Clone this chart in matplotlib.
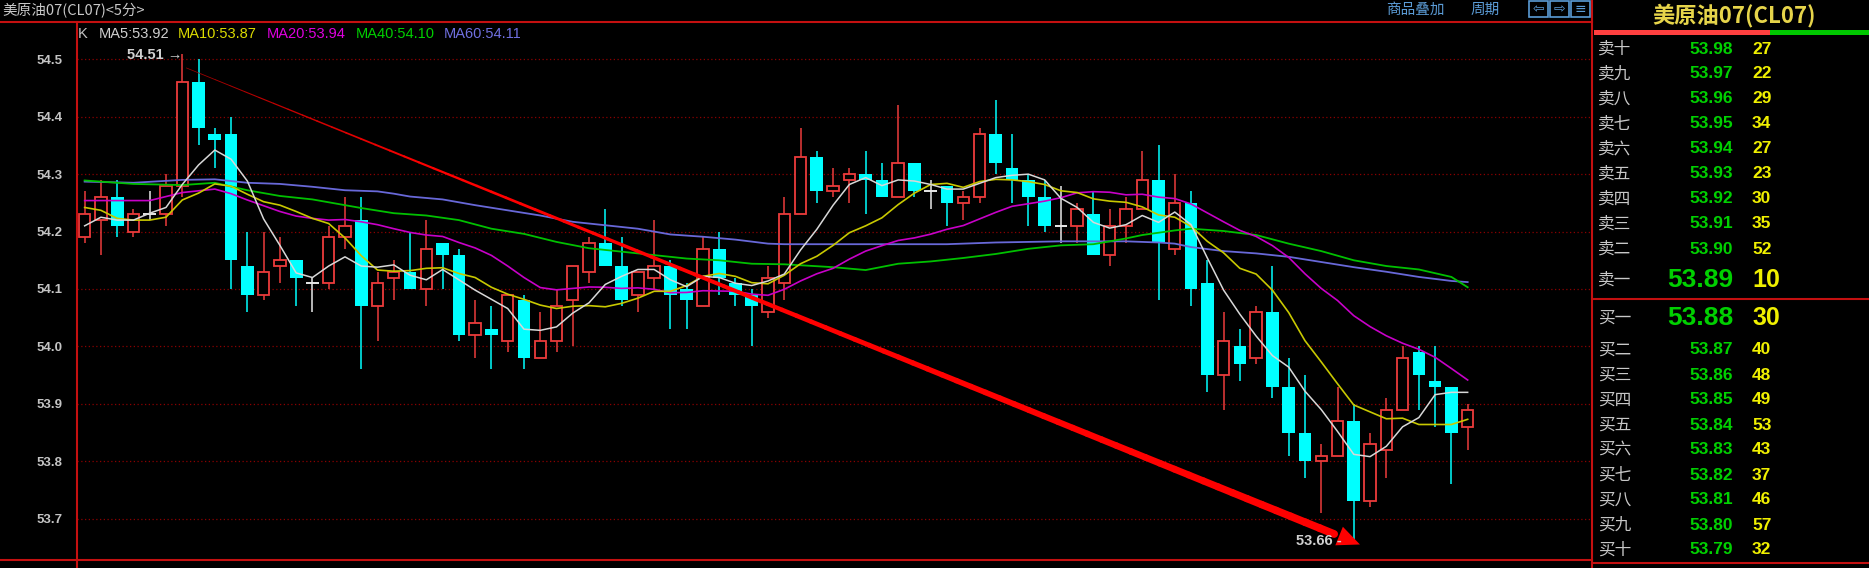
import matplotlib
matplotlib.use("Agg")
import matplotlib.pyplot as plt
import numpy as np
import pandas as pd
from matplotlib.collections import LineCollection
from matplotlib.lines import Line2D
from matplotlib.patches import Rectangle

# ---- data (5-minute candles, CL07) ----
opens = [54.19, 54.22, 54.26, 54.20, 54.23, 54.23, 54.28, 54.46, 54.37, 54.37,
         54.14, 54.09, 54.14, 54.15, 54.11, 54.11, 54.19, 54.22, 54.07, 54.12,
         54.13, 54.10, 54.18, 54.16, 54.02, 54.03, 54.01, 54.08, 53.98, 54.01,
         54.08, 54.13, 54.18, 54.14, 54.09, 54.12, 54.14, 54.10, 54.07, 54.17,
         54.11, 54.09, 54.06, 54.11, 54.23, 54.33, 54.27, 54.29, 54.30, 54.29,
         54.26, 54.32, 54.27, 54.28, 54.25, 54.26, 54.37, 54.31, 54.29, 54.26,
         54.21, 54.21, 54.23, 54.16, 54.21, 54.24, 54.29, 54.17, 54.25, 54.11,
         53.95, 54.00, 53.98, 54.06, 53.93, 53.85, 53.80, 53.81, 53.87, 53.73,
         53.82, 53.89, 53.99, 53.94, 53.93, 53.86]
highs = [54.27, 54.29, 54.29, 54.24, 54.27, 54.30, 54.51, 54.50, 54.38, 54.40,
         54.20, 54.20, 54.19, 54.15, 54.12, 54.21, 54.26, 54.26, 54.13, 54.15,
         54.20, 54.22, 54.18, 54.17, 54.08, 54.07, 54.09, 54.09, 54.06, 54.10,
         54.14, 54.19, 54.24, 54.19, 54.13, 54.22, 54.15, 54.11, 54.19, 54.20,
         54.12, 54.10, 54.14, 54.26, 54.38, 54.34, 54.31, 54.31, 54.34, 54.32,
         54.42, 54.32, 54.29, 54.28, 54.27, 54.38, 54.43, 54.37, 54.30, 54.29,
         54.28, 54.25, 54.27, 54.24, 54.26, 54.34, 54.35, 54.30, 54.27, 54.15,
         54.06, 54.03, 54.07, 54.14, 53.98, 53.95, 53.83, 53.93, 53.90, 53.85,
         53.91, 54.00, 54.00, 54.00, 53.93, 53.90]
lows = [54.18, 54.16, 54.19, 54.19, 54.22, 54.21, 54.26, 54.35, 54.31, 54.10,
        54.06, 54.08, 54.11, 54.07, 54.06, 54.10, 54.17, 53.96, 54.01, 54.08,
        54.10, 54.07, 54.10, 54.01, 53.98, 53.96, 53.99, 53.96, 53.98, 53.99,
        54.00, 54.11, 54.14, 54.07, 54.06, 54.10, 54.03, 54.03, 54.07, 54.09,
        54.07, 54.00, 54.05, 54.08, 54.23, 54.25, 54.26, 54.25, 54.23, 54.26,
        54.26, 54.26, 54.24, 54.21, 54.22, 54.25, 54.30, 54.25, 54.21, 54.20,
        54.18, 54.18, 54.16, 54.14, 54.18, 54.24, 54.08, 54.16, 54.07, 53.92,
        53.89, 53.94, 53.97, 53.91, 53.81, 53.77, 53.71, 53.81, 53.66, 53.72,
        53.77, 53.89, 53.89, 53.86, 53.76, 53.82]
closes = [54.23, 54.26, 54.21, 54.23, 54.23, 54.28, 54.46, 54.38, 54.36, 54.15,
          54.09, 54.13, 54.15, 54.12, 54.11, 54.19, 54.21, 54.07, 54.11, 54.13,
          54.10, 54.17, 54.16, 54.02, 54.04, 54.02, 54.09, 53.98, 54.01, 54.07,
          54.14, 54.18, 54.14, 54.08, 54.13, 54.14, 54.09, 54.08, 54.17, 54.12,
          54.09, 54.07, 54.12, 54.23, 54.33, 54.27, 54.28, 54.30, 54.29, 54.26,
          54.32, 54.27, 54.27, 54.25, 54.26, 54.37, 54.32, 54.29, 54.26, 54.21,
          54.21, 54.24, 54.16, 54.21, 54.24, 54.29, 54.18, 54.25, 54.10, 53.95,
          54.01, 53.97, 54.06, 53.93, 53.85, 53.80, 53.81, 53.87, 53.73, 53.83,
          53.89, 53.98, 53.95, 53.93, 53.85, 53.89]

# moving averages at the left edge depend on bars before the window
ma5_head = [54.21, 54.225, 54.22, 54.22]
ma10_head = [54.242, 54.237, 54.223, 54.22, 54.22, 54.225, 54.255, 54.267, 54.283]
ma20_head = [54.254, 54.254, 54.254, 54.254, 54.254, 54.261, 54.268, 54.271, 54.274,
             54.266, 54.255, 54.245, 54.235, 54.227, 54.223, 54.220, 54.221, 54.217, 54.212]
ma40_idx = [0, 3, 6, 8, 10, 12, 14, 16, 17, 19, 20, 21, 23, 25, 27, 29, 31, 33, 35, 37,
            39, 41, 43, 46, 48, 50, 52, 54, 56, 58, 60, 62, 64, 65, 66, 67, 68, 70, 72,
            74, 76, 78, 80, 82, 84, 85]
ma40_val = [54.289, 54.283, 54.281, 54.285, 54.272, 54.262, 54.256, 54.246, 54.241, 54.232,
            54.230, 54.228, 54.220, 54.205, 54.196, 54.182, 54.171, 54.165, 54.159, 54.153,
            54.150, 54.144, 54.143, 54.138, 54.133, 54.144, 54.148, 54.154, 54.161, 54.170,
            54.176, 54.178, 54.188, 54.194, 54.198, 54.202, 54.205, 54.201, 54.194,
            54.179, 54.166, 54.150, 54.140, 54.134, 54.121, 54.103]
ma60_idx = [0, 3, 6, 8, 10, 12, 14, 16, 18, 19, 20, 22, 24, 26, 28, 30, 32, 34, 36, 38,
            40, 42, 43, 48, 53, 56, 60, 64, 66, 67, 68, 70, 72, 74, 76, 78, 80, 82, 84, 85]
ma60_val = [54.287, 54.285, 54.290, 54.291, 54.285, 54.283, 54.278, 54.272, 54.270, 54.266,
            54.261, 54.256, 54.246, 54.237, 54.228, 54.217, 54.211, 54.205, 54.195, 54.191,
            54.186, 54.179, 54.178, 54.178, 54.178, 54.181, 54.183, 54.183, 54.181, 54.179,
            54.173, 54.166, 54.162, 54.156, 54.147, 54.138, 54.130, 54.121, 54.114, 54.112]

price_ticks = [53.7, 53.8, 53.9, 54.0, 54.1, 54.2, 54.3, 54.4, 54.5]
legend_items = ["K", "MA5:53.92", "MA10:53.87", "MA20:53.94", "MA40:54.10", "MA60:54.11"]

ask_labels = ["卖十", "卖九", "卖八", "卖七", "卖六", "卖五", "卖四", "卖三", "卖二", "卖一"]
ask_prices = [53.98, 53.97, 53.96, 53.95, 53.94, 53.93, 53.92, 53.91, 53.90, 53.89]
ask_vols = [27, 22, 29, 34, 27, 23, 30, 35, 52, 10]
bid_labels = ["买一", "买二", "买三", "买四", "买五", "买六", "买七", "买八", "买九", "买十"]
bid_prices = [53.88, 53.87, 53.86, 53.85, 53.84, 53.83, 53.82, 53.81, 53.80, 53.79]
bid_vols = [30, 40, 48, 49, 53, 43, 37, 46, 57, 32]

# ---- styling ----
W, H = 1869, 568
RED = "#ec3b3b"
CYAN = "#00ffff"
FRAME = "#c41010"
GRID = "#8a0000"
CJK = ["Noto Sans CJK SC", "DejaVu Sans"]
plt.rcParams["font.family"] = ["Liberation Sans", "Noto Sans CJK SC", "DejaVu Sans"]


def fx(px):
    return px / W


def fy(py):
    return 1 - py / H


fig = plt.figure(figsize=(W / 100, H / 100), dpi=100, facecolor="black")
ax = fig.add_axes([fx(77), fy(560), (1591 - 77) / W, (560 - 22) / H])
ax.set_facecolor("black")
ax.set_xlim(-0.47, 92.58)
ax.set_ylim(53.628, 54.565)
for s in ax.spines.values():
    s.set_visible(False)
ax.set_xticks([])
ax.set_yticks(price_ticks)
ax.set_yticklabels(["%.1f" % t for t in price_ticks])
ax.tick_params(axis="y", length=0, pad=10.5, labelsize=9.5, labelcolor="#c4c4c4")
for lab in ax.get_yticklabels():
    lab.set_fontweight("bold")
ax.grid(axis="y", color=GRID, linestyle=(0, (1, 2)), linewidth=0.9)
ax.set_axisbelow(True)

# ---- candles ----
o = np.array(opens); h = np.array(highs); l = np.array(lows); c = np.array(closes)
x = np.arange(len(o))
bw = 0.78
up = c > o
down = c < o
flat = c == o

ax.vlines(x[down], l[down], h[down], color=CYAN, lw=1.1, zorder=2)
ax.bar(x[down], (o - c)[down], bottom=c[down], width=bw, color=CYAN, zorder=3)

ax.vlines(x[up], c[up], h[up], color=RED, lw=1.1, zorder=2)
ax.vlines(x[up], l[up], o[up], color=RED, lw=1.1, zorder=2)
ax.bar(x[up], (c - o)[up], bottom=o[up], width=bw - 0.08, facecolor="black",
       edgecolor=RED, linewidth=1.3, zorder=3)

ax.vlines(x[flat], l[flat], h[flat], color="#e8e8e8", lw=1.1, zorder=3)
ax.hlines(c[flat], x[flat] - bw / 2, x[flat] + bw / 2, color="#e8e8e8", lw=1.4, zorder=3)

# ---- moving averages ----
cs = pd.Series(closes)
ma5 = cs.rolling(5).mean().to_numpy()
ma5[:4] = ma5_head
ma10 = cs.rolling(10).mean().to_numpy()
ma10[:9] = ma10_head
ma20 = cs.rolling(20).mean().to_numpy()
ma20[:19] = ma20_head

ax.plot(ma60_idx, ma60_val, color="#6868d8", lw=1.3, zorder=4)
ax.plot(ma40_idx, ma40_val, color="#00c000", lw=1.3, zorder=4)
ax.plot(x, ma20, color="#c800c8", lw=1.2, zorder=4)
ax.plot(x, ma10, color="#c8c800", lw=1.2, zorder=4)
ax.plot(x, ma5, color="#d8d8d8", lw=1.1, zorder=5)

# ---- hand-drawn trend arrow from the high to the low ----
i_hi = int(np.argmax(h)); i_lo = int(np.argmin(l))
x0, y0 = i_hi + 0.25, h[i_hi] - 0.025
x1, y1 = i_lo + 0.38, l[i_lo] - 0.005
t = np.linspace(0, 0.978, 80)
px = x0 + (x1 - x0) * t
py = y0 + (y1 - y0) * t
segs = np.stack([np.column_stack([px[:-1], py[:-1]]), np.column_stack([px[1:], py[1:]])], axis=1)
widths = np.linspace(0.5, 5.6, len(segs))
shade = np.clip(t[:-1] / 0.2, 0, 1)
cols = np.column_stack([0.62 + 0.38 * shade, np.zeros_like(shade), np.zeros_like(shade), np.ones_like(shade)])
ax.add_collection(LineCollection(segs, linewidths=widths, colors=cols, capstyle="round", zorder=6))
ta = 0.93
ax.annotate("", xy=(x1, y1), xytext=(x0 + (x1 - x0) * ta, y0 + (y1 - y0) * ta),
            arrowprops=dict(arrowstyle="-|>,head_length=0.9,head_width=0.4",
                            mutation_scale=18, color="#ff0000", lw=0,
                            shrinkA=0, shrinkB=0), zorder=7)

ax.text(i_hi - 0.02, h[i_hi] - 0.002, "%.2f \u2192" % h[i_hi], ha="right", va="center",
        color="#d0d0d0", fontsize=10.5, fontweight="bold", zorder=8)
ax.text(i_lo - 0.72, l[i_lo] + 0.001, "%.2f -" % l[i_lo], ha="right", va="center",
        color="#d0d0d0", fontsize=10.5, fontweight="bold", zorder=8)

# ---- frame lines ----
def fline(xa, ya, xb, yb, color=FRAME, lw=1.5):
    fig.add_artist(Line2D([fx(xa), fx(xb)], [fy(ya), fy(yb)], color=color, lw=lw))

fline(0, 22, 1592, 22)
fline(0, 560, 1592, 560)
fline(77, 22, 77, 568)
fline(1592, 0, 1592, 568)
fline(1592, 299, 1869, 299)
fline(1592, 563, 1869, 563)

# ---- header texts ----
fig.text(fx(2), fy(11), "美原油07(CL07)<5分>", family=CJK, fontsize=10.5,
         color="#c8c8c8", va="center")
legend_x = [78, 99, 178, 267, 356, 444]
legend_c = ["#c4c4c4", "#d0d0d0", "#dcdc00", "#e000e0", "#00d000", "#7070e0"]
for lx, txt, col in zip(legend_x, legend_items, legend_c):
    fig.text(fx(lx), fy(34), txt, fontsize=10.5, color=col, va="center")

tool = "#5b9bd5"
fig.text(fx(1386), fy(10), "商品叠加", family=CJK, fontsize=10.5, color=tool, va="center")
fig.text(fx(1471), fy(10), "周期", family=CJK, fontsize=10.5, color=tool, va="center")
for bx, sym in zip([1529, 1550, 1571], ["\u21e6", "\u21e8", "\u2261"]):
    fig.add_artist(Rectangle((fx(bx), fy(17)), 19 / W, 16 / H, fill=False, edgecolor=tool, lw=1.2))
    fig.text(fx(bx + 9.5), fy(9), sym, family=["DejaVu Sans"], fontsize=10, color=tool,
             ha="center", va="center")

# ---- order book panel ----
fig.text(fx(1734), fy(15), "美原油07(CL07)", family=CJK, fontsize=16, fontweight="bold",
         color="#e6d44a", ha="center", va="center")
fig.add_artist(Rectangle((fx(1594), fy(35)), (1770 - 1594) / W, 5 / H, color="#ff4040", lw=0))
fig.add_artist(Rectangle((fx(1770), fy(35)), (1869 - 1770) / W, 5 / H, color="#00c800", lw=0))

ask_y = [49 + 25 * k for k in range(9)] + [280]
bid_y = [318] + [350 + 25 * k for k in range(9)]
rows = list(zip(ask_labels, ask_prices, ask_vols, ask_y)) + list(zip(bid_labels, bid_prices, bid_vols, bid_y))
for lab, pr, vol, yy in rows:
    big = lab in ("卖一", "买一")
    fig.text(fx(1598), fy(yy), lab, family=CJK, fontsize=12, color="#c8c8c8", va="center")
    fig.text(fx(1733), fy(yy), "%.2f" % pr, fontsize=19 if big else 12.5,
             fontweight="bold", color="#00d000", ha="right", va="center")
    fig.text(fx(1752), fy(yy), str(vol), fontsize=18 if big else 12.5,
             fontweight="bold", color="#f0f000", ha="left", va="center")

fig.savefig("out.png", dpi=100, facecolor="black")
